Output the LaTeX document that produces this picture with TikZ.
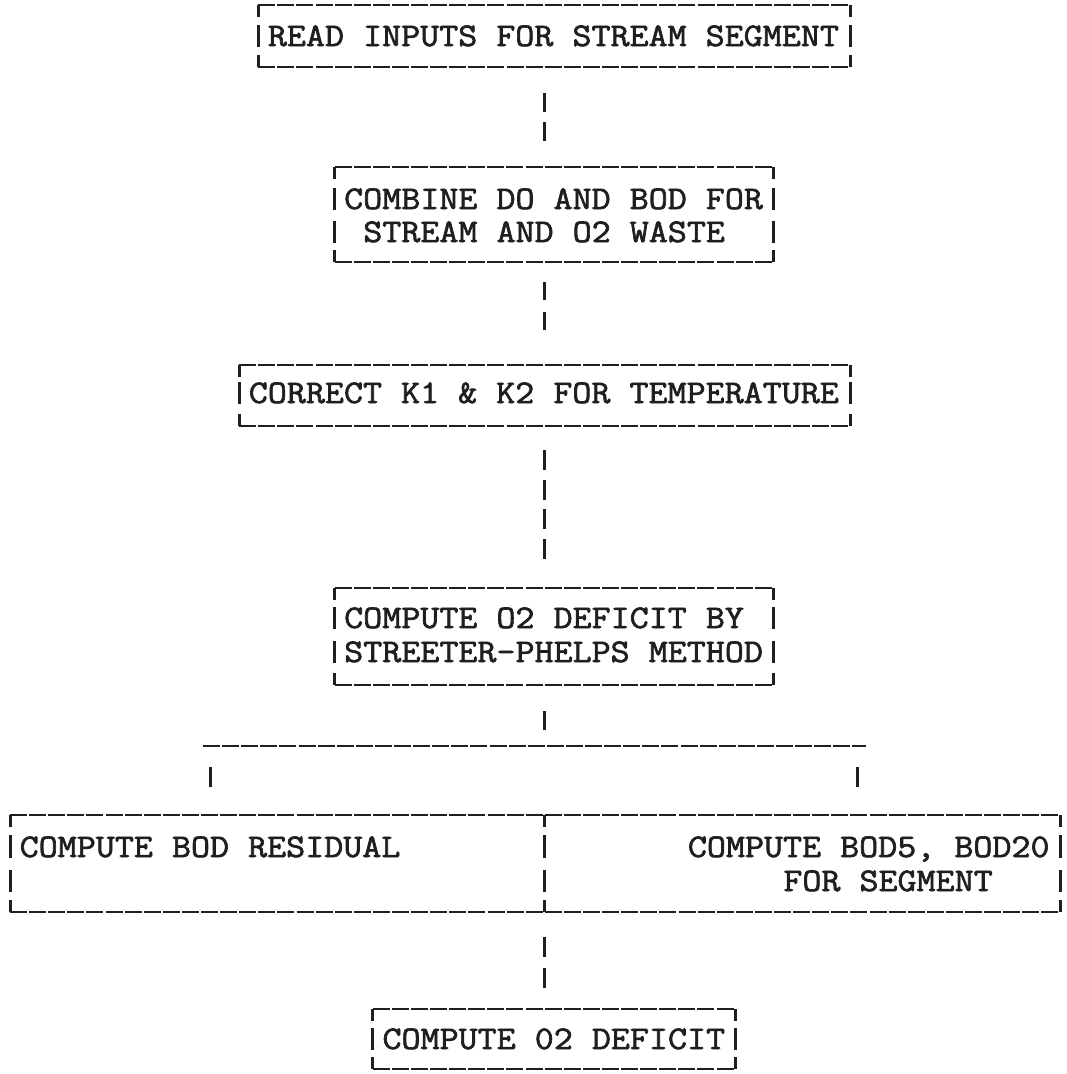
\documentclass[tikz,border=0pt]{standalone}
\usepackage{fontspec}
\newfontfamily\typewriter[FakeStretch=1.12,FakeBold=2]{Latin Modern Mono}
\begin{document}
\begin{tikzpicture}[x=1pt,y=-1pt,
  ink/.style={draw=black!88},
  hline/.style={ink,line width=2.4pt,dash pattern=on 17pt off 2.1pt},
  vbar/.style={ink,line width=3pt},
  link/.style={ink,line width=3pt},
  boxarea/.style={rectangle,inner sep=0pt,outer sep=0pt},
  txt/.style={anchor=base west,inner sep=0pt,text=black!88,
    font=\typewriter\fontsize{33pt}{34pt}\selectfont}]
\useasboundingbox (0,0) rectangle (1067,1074);

% a printed frame: top and bottom dashed rules with corner ticks
\newcommand\pframe[5]{%
  \node[boxarea,minimum width={(#3-#2)*1pt},minimum height={(#5-#4)*1pt}]
    (#1) at ({(#2+#3)/2},{(#4+#5)/2}) {};
  \draw[hline] (#1.north west) -- (#1.north east);
  \draw[hline] (#1.south west) -- (#1.south east);
  \draw[vbar] (#1.north west) -- ++(0,12);
  \draw[vbar] (#1.north east) -- ++(0,12);
  \draw[vbar] (#1.south west) -- ++(0,-12);
  \draw[vbar] (#1.south east) -- ++(0,-12);
}
% side bars of one text row
\newcommand\rowbars[3]{%
  \draw[vbar] (#1.west |- 0,#2) -- (#1.west |- 0,#3);
  \draw[vbar] (#1.east |- 0,#2) -- (#1.east |- 0,#3);
}

\coordinate (axis) at (544.5,0);

% READ INPUTS
\pframe{b1}{258.2}{850.0}{5}{67}
\rowbars{b1}{25}{47}
\node[txt] (t1) at (267.7,46) {READ INPUTS FOR STREAM SEGMENT};

% COMBINE
\pframe{b2}{334.5}{773.6}{167}{262}
\rowbars{b2}{188}{210}
\rowbars{b2}{221}{243}
\node[txt] (t2a) at (344.0,209) {COMBINE DO AND BOD FOR};
\node[txt] (t2b) at (363.1,242) {STREAM AND O2 WASTE};

% CORRECT K1 & K2
\pframe{b3}{239.1}{850.0}{365}{426}
\rowbars{b3}{382}{404}
\node[txt] (t3) at (248.6,403) {CORRECT K1 \& K2 FOR TEMPERATURE};

% STREETER-PHELPS
\pframe{b4}{334.5}{773.6}{588}{685}
\rowbars{b4}{607}{629}
\rowbars{b4}{641}{663}
\node[txt] (t4a) at (344.0,628) {COMPUTE O2 DEFICIT BY};
\node[txt] (t4b) at (344.0,662) {STREETER-PHELPS METHOD};

% split rule
\coordinate (sw) at (203,746);
\coordinate (se) at (866,746);
\draw[hline] (sw) -- (se);
\coordinate (lx) at (210.4,746);
\coordinate (rx) at (857,746);

% BOD residual / BOD5, BOD20
\pframe{b5}{10}{1060}{815}{912}
\rowbars{b5}{835}{858}
\rowbars{b5}{870}{892}
\coordinate (mid) at (544.5,863);
\draw[vbar] (mid |- b5.north) -- ++(0,12);
\draw[vbar] (mid |- b5.south) -- ++(0,-12);
\draw[vbar] (mid |- 0,835) -- (mid |- 0,858);
\draw[vbar] (mid |- 0,870) -- (mid |- 0,892);
\node[txt] (t5a) at (19.5,857) {COMPUTE BOD RESIDUAL};
\node[txt] (t5b) at (687.7,857) {COMPUTE BOD5, BOD20};
\node[txt] (t5c) at (783.2,891) {FOR SEGMENT};

% final deficit
\pframe{b6}{372.7}{735.4}{1009}{1069}
\rowbars{b6}{1028}{1050}
\node[txt] (t6) at (382.3,1049) {COMPUTE 02 DEFICIT};

% connectors printed as stacked bars
\draw[link,dash pattern=on 19pt off 10pt,shorten <=26pt,shorten >=26pt]
  (b1.south -| axis) -- (b2.north -| axis);
\draw[link,dash pattern=on 18pt off 12pt,shorten <=20pt,shorten >=35pt]
  (b2.south -| axis) -- (b3.north -| axis);
\draw[link,dash pattern=on 20pt off 9.7pt,shorten <=24pt,shorten >=29pt]
  (b3.south -| axis) -- (b4.north -| axis);
\draw[link,dash pattern=on 20pt off 20pt,shorten <=26pt,shorten >=16pt]
  (b4.south -| axis) -- (sw -| axis);
\draw[link,dash pattern=on 20pt off 20pt,shorten <=21pt,shorten >=28pt]
  (lx) -- (lx |- b5.north);
\draw[link,dash pattern=on 20pt off 20pt,shorten <=21pt,shorten >=28pt]
  (rx) -- (rx |- b5.north);
\draw[link,dash pattern=on 20pt off 11pt,shorten <=25pt,shorten >=21pt]
  (b5.south -| axis) -- (b6.north -| axis);
\end{tikzpicture}
\end{document}
